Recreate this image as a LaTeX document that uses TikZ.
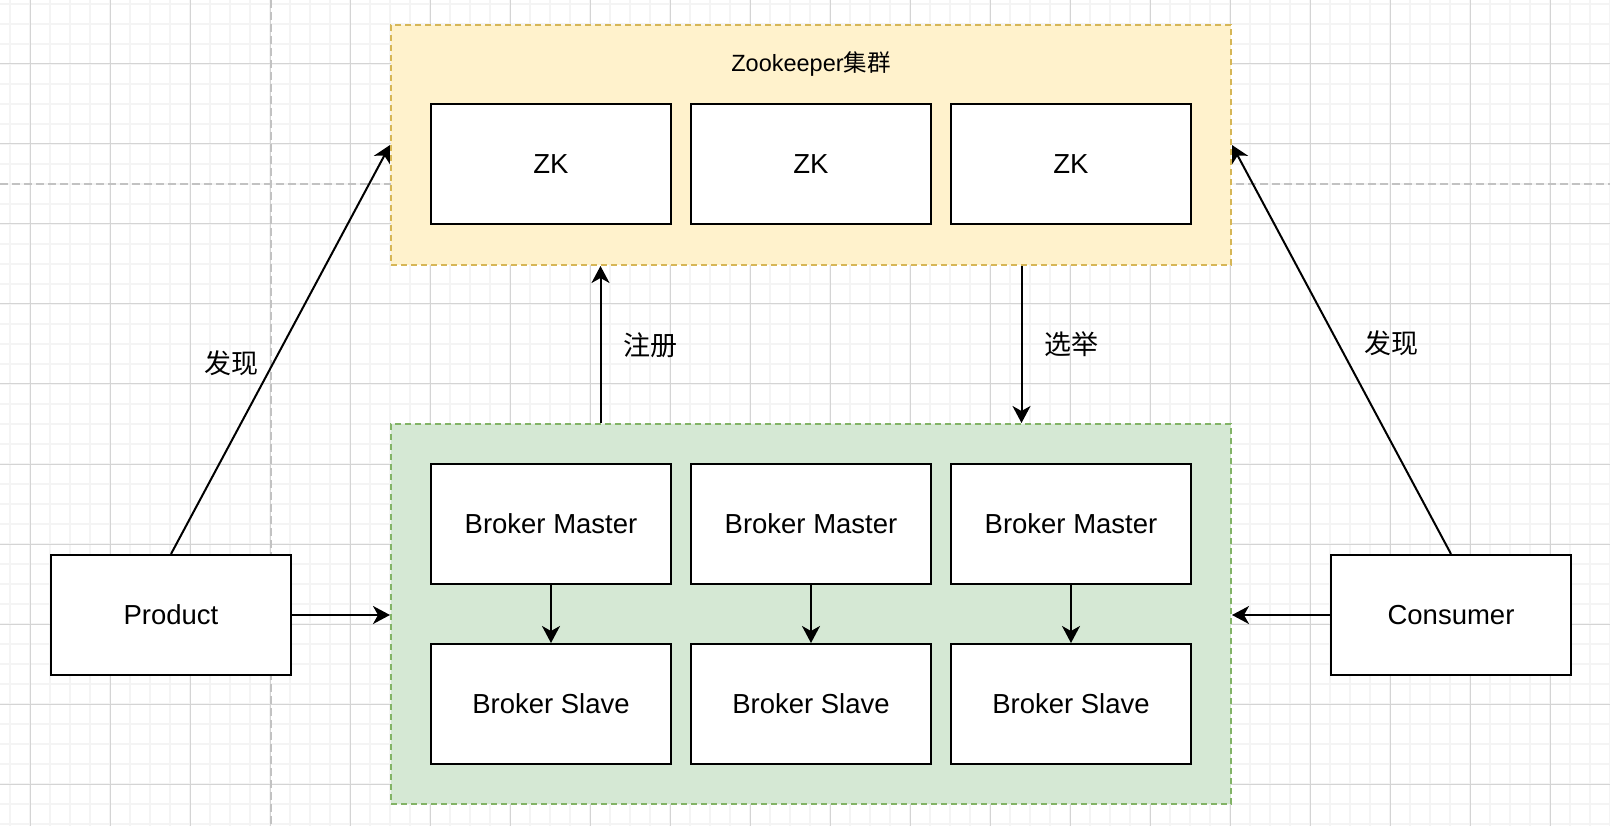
\documentclass[tikz,border=0pt]{standalone}
\usepackage{fontspec}
\setmainfont{Liberation Sans}
\newfontfamily\cjk{Noto Sans CJK SC}
\usetikzlibrary{arrows.meta,calc}
\definecolor{gridminor}{HTML}{F4F4F4}
\definecolor{gridmajor}{HTML}{D4D4D4}
\definecolor{pageline}{HTML}{C2C2C2}
\definecolor{zkfill}{HTML}{FFF2CC}
\definecolor{zkline}{HTML}{D6B656}
\definecolor{brfill}{HTML}{D5E8D4}
\definecolor{brline}{HTML}{82B366}
\newcommand\boxfont{\fontsize{27.5pt}{33pt}\selectfont}
\newcommand\titlefont{\fontsize{23.5pt}{28pt}\selectfont}
\newcommand\labfont{\fontsize{27pt}{32pt}\selectfont\cjk}
\tikzset{
  minorline/.style={draw=gridminor, line width=2pt},
  majorline/.style={draw=gridmajor, line width=1pt},
  pagebreak/.style={draw=pageline, line width=2pt, dash pattern=on 8pt off 4pt},
  container/.style={rectangle, line width=2pt, dash pattern=on 6pt off 4pt, minimum width=840pt, inner sep=0pt},
  boxnode/.style={rectangle, draw=black, fill=white, line width=2pt, minimum width=240pt, minimum height=120pt, inner sep=0pt, font=\boxfont},
  lab/.style={inner sep=0pt, font=\labfont},
  arr/.style={draw=black, line width=2pt, -{Stealth[length=17pt, width=18pt, inset=5pt]}},
}
\begin{document}
\begin{tikzpicture}[x=1pt, y=-1pt]
\useasboundingbox (0,0) rectangle (1610,826);
\fill[white] (0,0) rectangle (1610,826);
% grid
\foreach \x in {10,30,...,1610} \draw[minorline] (\x,0) -- (\x,826);
\foreach \y in {4,24,...,826} \draw[minorline] (0,\y) -- (1610,\y);
\foreach \x in {30.5,110.5,...,1610} \draw[majorline] (\x,0) -- (\x,826);
\foreach \y in {64,144,...,826} \draw[majorline] (0,\y) -- (1610,\y);
% page break lines
\draw[pagebreak] (271,0) -- (271,826);
\draw[pagebreak] (0,184) -- (1610,184);
% containers
\node[container, draw=zkline, fill=zkfill, minimum height=240pt] (zk) at (811,145) {};
\node[container, draw=brline, fill=brfill, minimum height=380pt] (broker) at (811,614) {};
\node[inner sep=0pt, font=\titlefont] (title) at (811,64) {Zookeeper{\cjk 集群}};
% zk boxes
\node[boxnode] (zk1) at (551,164.5) {ZK};
\node[boxnode] (zk2) at (811,164.5) {ZK};
\node[boxnode] (zk3) at (1071,164.5) {ZK};
% brokers
\node[boxnode] (m1) at (551,524) {Broker Master};
\node[boxnode] (m2) at (811,524) {Broker Master};
\node[boxnode] (m3) at (1071,524) {Broker Master};
\node[boxnode] (s1) at (551,704) {Broker Slave};
\node[boxnode] (s2) at (811,704) {Broker Slave};
\node[boxnode] (s3) at (1071,704) {Broker Slave};
% product / consumer
\node[boxnode] (prod) at (171,615) {Product};
\node[boxnode] (cons) at (1451,615) {Consumer};
% anchor points
\coordinate (regA) at ($(broker.north west)!0.25!(broker.north east)$);
\coordinate (regB) at ($(zk.south west)!0.25!(zk.south east)$);
\coordinate (selA) at ($(zk.south west)!0.75!(zk.south east)$);
\coordinate (selB) at ($(broker.north west)!0.75!(broker.north east)$);
% connectors
\draw[arr] (m1) -- (s1);
\draw[arr] (m2) -- (s2);
\draw[arr] (m3) -- (s3);
\draw[arr] (prod.east) -- (prod.east -| broker.west);
\draw[arr] (cons.west) -- (cons.west -| broker.east);
\draw[arr] (prod.north) -- (zk.west);
\draw[arr] (cons.north) -- (zk.east);
\draw[arr] (regA) -- (regB);
\draw[arr] (selA) -- (selB);
% labels
\node[lab] (lreg) at (650,345) {注册};
\node[lab] (lsel) at (1071,344) {选举};
\node[lab] (lfl) at (231,363) {发现};
\node[lab] (lfr) at (1391,343) {发现};
\end{tikzpicture}
\end{document}
